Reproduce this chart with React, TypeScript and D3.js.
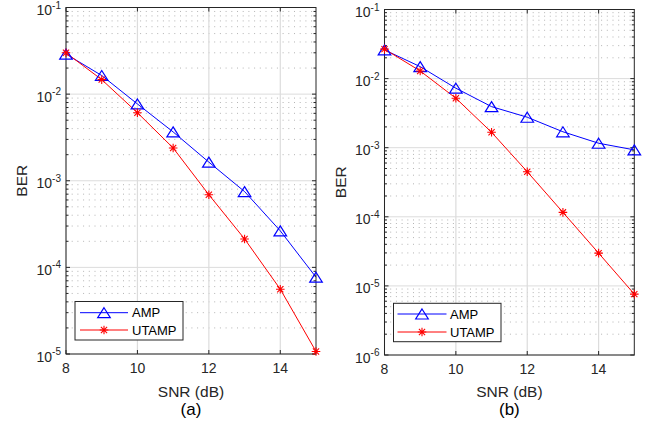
import React, { useEffect, useRef } from 'react';
import * as d3 from 'd3';

// SNR points (dB)
const snr = [8, 9, 10, 11, 12, 13, 14, 15];

// panel (a)
const ampA = [0.029, 0.0164, 0.0077, 0.00366, 0.00164, 0.00075, 0.000264, 7.7e-5];
const utampA = [0.030, 0.0147, 0.0061, 0.00239, 0.00069, 0.000213, 5.6e-5, 1.07e-5];

// panel (b)
const ampB = [0.026, 0.0149, 0.00726, 0.00393, 0.00276, 0.0017, 0.00116, 0.00093];
const utampB = [0.0267, 0.0129, 0.0052, 0.00167, 0.000449, 0.000116, 2.98e-5, 7.6e-6];

const xTicks = [8, 10, 12, 14];
const seriesNames = ['AMP', 'UTAMP'];

const FONT = '"Liberation Sans", Arial, Helvetica, sans-serif';
const AXIS = '#262626';

interface Panel {
  left: number; right: number; top: number; bottom: number;
  yMin: number; yMax: number;
  amp: number[]; utamp: number[];
  caption: string;
  berX: number;
  legend: { x0: number; x1: number; y0: number; y1: number; lineX0: number; lineX1: number; textX: number; rows: number[] };
}

const panels: Panel[] = [
  {
    left: 66, right: 316, top: 7.5, bottom: 354, yMin: 1e-5, yMax: 1e-1,
    amp: ampA, utamp: utampA, caption: '(a)', berX: 26.5,
    legend: { x0: 75, x1: 183, y0: 301.5, y1: 340, lineX0: 80, lineX1: 128, textX: 132, rows: [312.7, 330] },
  },
  {
    left: 384.5, right: 634.3, top: 9.5, bottom: 355, yMin: 1e-6, yMax: 1e-1,
    amp: ampB, utamp: utampB, caption: '(b)', berX: 346,
    legend: { x0: 393.5, x1: 501, y0: 303.3, y1: 341.7, lineX0: 397.5, lineX1: 446.5, textX: 450, rows: [314, 332] },
  },
];

function triangle(sel: any, x: number, y: number) {
  sel.append('path')
    .attr('d', `M${x},${y - 5}L${x + 6.3},${y + 5}L${x - 6.3},${y + 5}Z`)
    .attr('fill', 'none').attr('stroke', '#0000ff').attr('stroke-width', 1.2);
}

function asterisk(sel: any, x: number, y: number) {
  const r = 4.3, d = r * 0.72;
  sel.append('path')
    .attr('d', `M${x - r},${y}H${x + r}M${x},${y - r}V${y + r}M${x - d},${y - d}L${x + d},${y + d}M${x - d},${y + d}L${x + d},${y - d}`)
    .attr('fill', 'none').attr('stroke', '#ff0000').attr('stroke-width', 1.1);
}

function drawPanel(svg: any, p: Panel) {
  const x = d3.scaleLinear().domain([8, 15]).range([p.left, p.right]);
  const y = d3.scaleLog().domain([p.yMin, p.yMax]).range([p.bottom, p.top]);
  const g = svg.append('g');

  const decades: number[] = [];
  const minors: number[] = [];
  const e0 = Math.round(Math.log10(p.yMin));
  const e1 = Math.round(Math.log10(p.yMax));
  for (let e = e0; e <= e1; e++) {
    decades.push(Math.pow(10, e));
    if (e < e1) for (let k = 2; k <= 9; k++) minors.push(k * Math.pow(10, e));
  }

  // minor grid (dotted)
  g.selectAll('.minor').data(minors).enter().append('line')
    .attr('x1', p.left).attr('x2', p.right)
    .attr('y1', (d: number) => y(d)).attr('y2', (d: number) => y(d))
    .attr('stroke', '#b4b4b4').attr('stroke-width', 1).attr('stroke-dasharray', '1 4.7');

  // major grid
  g.selectAll('.majy').data(decades).enter().append('line')
    .attr('x1', p.left).attr('x2', p.right)
    .attr('y1', (d: number) => y(d)).attr('y2', (d: number) => y(d))
    .attr('stroke', '#dcdcdc').attr('stroke-width', 1);
  g.selectAll('.majx').data(xTicks).enter().append('line')
    .attr('x1', (d: number) => x(d)).attr('x2', (d: number) => x(d))
    .attr('y1', p.top).attr('y2', p.bottom)
    .attr('stroke', '#dcdcdc').attr('stroke-width', 1.2);

  // series lines
  const line = d3.line<number>().x((_, i) => x(snr[i])).y(d => y(d));
  g.append('path').datum(p.amp).attr('d', line).attr('fill', 'none').attr('stroke', '#0000ff').attr('stroke-width', 1);
  g.append('path').datum(p.utamp).attr('d', line).attr('fill', 'none').attr('stroke', '#ff0000').attr('stroke-width', 1);

  // box
  g.append('rect').attr('x', p.left).attr('y', p.top)
    .attr('width', p.right - p.left).attr('height', p.bottom - p.top)
    .attr('fill', 'none').attr('stroke', AXIS).attr('stroke-width', 1);

  // ticks
  decades.forEach(d => {
    g.append('line').attr('x1', p.left).attr('x2', p.left + 4).attr('y1', y(d)).attr('y2', y(d)).attr('stroke', AXIS);
    g.append('line').attr('x1', p.right).attr('x2', p.right - 4).attr('y1', y(d)).attr('y2', y(d)).attr('stroke', AXIS);
  });
  minors.forEach(d => {
    g.append('line').attr('x1', p.left).attr('x2', p.left + 2.5).attr('y1', y(d)).attr('y2', y(d)).attr('stroke', AXIS);
    g.append('line').attr('x1', p.right).attr('x2', p.right - 2.5).attr('y1', y(d)).attr('y2', y(d)).attr('stroke', AXIS);
  });
  xTicks.forEach(d => {
    g.append('line').attr('x1', x(d)).attr('x2', x(d)).attr('y1', p.bottom).attr('y2', p.bottom - 4).attr('stroke', AXIS);
    g.append('line').attr('x1', x(d)).attr('x2', x(d)).attr('y1', p.top).attr('y2', p.top + 4).attr('stroke', AXIS);
  });

  // markers
  p.amp.forEach((v, i) => triangle(g, x(snr[i]), y(v)));
  p.utamp.forEach((v, i) => asterisk(g, x(snr[i]), y(v)));

  // y tick labels
  decades.forEach(d => {
    const t = g.append('text').attr('x', p.left - 5).attr('y', y(d) + 7.5)
      .attr('text-anchor', 'end').attr('font-family', FONT).attr('font-size', 14).attr('fill', AXIS);
    t.append('tspan').text('10');
    t.append('tspan').attr('dy', -6.5).attr('font-size', 10).text(String(Math.round(Math.log10(d))));
  });

  // x tick labels
  xTicks.forEach(d => {
    g.append('text').attr('x', x(d)).attr('y', p.bottom + 19).attr('text-anchor', 'middle')
      .attr('font-family', FONT).attr('font-size', 14).attr('fill', AXIS).text(String(d));
  });

  const cx = (p.left + p.right) / 2;
  g.append('text').attr('x', cx).attr('y', 397).attr('text-anchor', 'middle')
    .attr('font-family', FONT).attr('font-size', 15.5).attr('fill', AXIS).text('SNR (dB)');
  g.append('text').attr('x', cx).attr('y', 415).attr('text-anchor', 'middle')
    .attr('font-family', FONT).attr('font-size', 17).attr('fill', '#000').text(p.caption);
  g.append('text').attr('transform', `translate(${p.berX},${(p.top + p.bottom) / 2}) rotate(-90)`)
    .attr('text-anchor', 'middle').attr('font-family', FONT).attr('font-size', 15.5).attr('fill', AXIS).text('BER');

  // legend
  const L = p.legend;
  g.append('rect').attr('x', L.x0).attr('y', L.y0).attr('width', L.x1 - L.x0).attr('height', L.y1 - L.y0)
    .attr('fill', '#fff').attr('stroke', AXIS).attr('stroke-width', 1);
  const colors = ['#0000ff', '#ff0000'];
  seriesNames.forEach((name, i) => {
    const ry = L.rows[i];
    g.append('line').attr('x1', L.lineX0).attr('x2', L.lineX1).attr('y1', ry).attr('y2', ry)
      .attr('stroke', colors[i]).attr('stroke-width', 1);
    const mx = (L.lineX0 + L.lineX1) / 2;
    if (i === 0) triangle(g, mx, ry); else asterisk(g, mx, ry);
    g.append('text').attr('x', L.textX).attr('y', ry + 4.7).attr('font-family', FONT)
      .attr('font-size', 13).attr('fill', '#000').text(name);
  });
}

export default function App() {
  const ref = useRef<SVGSVGElement>(null);
  useEffect(() => {
    const svg = d3.select(ref.current);
    svg.selectAll('*').remove();
    svg.append('rect').attr('width', 656).attr('height', 426).attr('fill', '#fff');
    panels.forEach(p => drawPanel(svg, p));
  }, []);
  return (
    <svg ref={ref} width={656} height={426}
      style={{ position: 'absolute', left: 0, top: 0, display: 'block' }} />
  );
}
